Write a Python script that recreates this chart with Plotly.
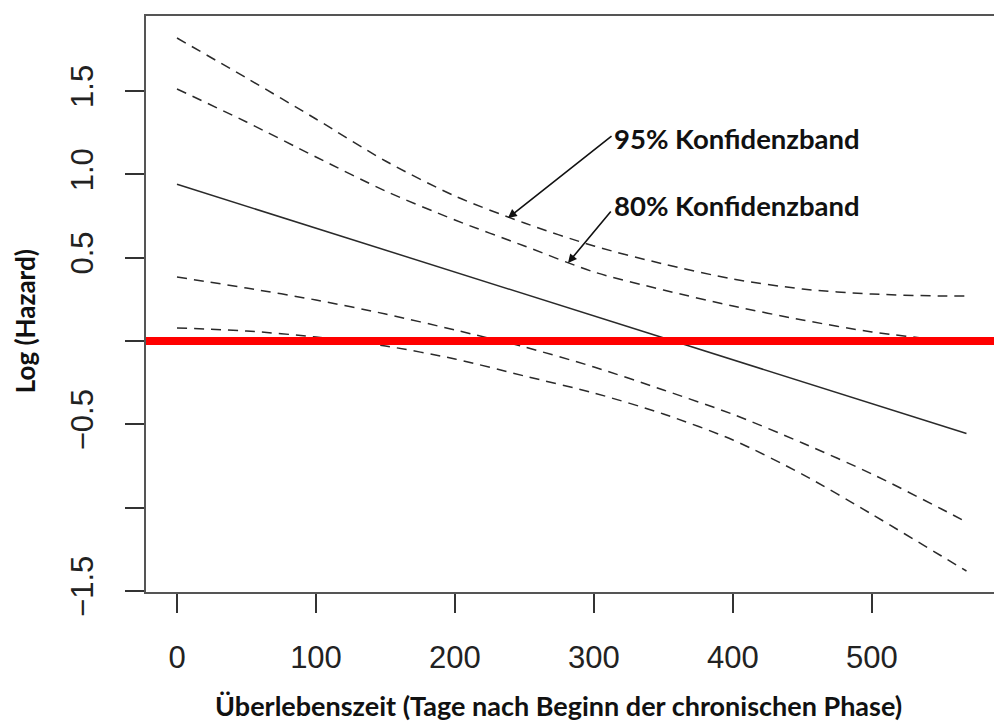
import plotly.graph_objects as go

# ---- data ----
days = [0, 50, 100, 150, 200, 250, 300, 350, 400, 450, 500, 550, 568]
log_hazard = [0.940, 0.808, 0.677, 0.545, 0.414, 0.282, 0.150, 0.019, -0.113, -0.244, -0.376, -0.508, -0.555]
upper95 = [1.818, 1.578, 1.332, 1.080, 0.870, 0.708, 0.570, 0.462, 0.372, 0.312, 0.282, 0.270, 0.270]
upper80 = [1.512, 1.314, 1.104, 0.900, 0.726, 0.570, 0.414, 0.306, 0.210, 0.126, 0.054, 0.006, -0.006]
lower80 = [0.384, 0.318, 0.246, 0.162, 0.066, -0.036, -0.156, -0.294, -0.440, -0.612, -0.798, -1.008, -1.086]
lower95 = [0.078, 0.060, 0.024, -0.030, -0.108, -0.210, -0.312, -0.438, -0.594, -0.800, -1.040, -1.290, -1.380]

x_ticks = [0, 100, 200, 300, 400, 500]
y_ticks = [-1.5, -1.0, -0.5, 0.0, 0.5, 1.0, 1.5]
y_ticklabels = ["\u22121.5", "", "\u22120.5", "", "0.5", "1.0", "1.5"]

x_title = "Überlebenszeit (Tage nach Beginn der chronischen Phase)"
y_title = "Log (Hazard)"
label95 = "95% Konfidenzband"
label80 = "80% Konfidenzband"

LINE = "#2a2a2a"
DASH = "10px,7px"

fig = go.Figure()
for ys in (upper95, upper80, lower80, lower95):
    fig.add_trace(go.Scatter(x=days, y=ys, mode="lines",
                             line=dict(color=LINE, width=1.5, dash=DASH, shape="spline", smoothing=0.8),
                             hoverinfo="skip", showlegend=False))
fig.add_trace(go.Scatter(x=days, y=log_hazard, mode="lines",
                         line=dict(color=LINE, width=1.5),
                         hoverinfo="skip", showlegend=False))

# red reference line at 0
fig.add_shape(type="line", xref="paper", yref="y", x0=0, x1=1, y0=0, y1=0,
              line=dict(color="#ff0000", width=8), layer="above")

tickfont = dict(family="Liberation Sans, Arial, sans-serif", size=31, color="#222")
titlefont = dict(family="Lato, Open Sans, sans-serif", size=27, color="#111", weight="bold")

fig.update_xaxes(range=[-22.3, 587.8], tickvals=x_ticks, ticktext=[str(v) for v in x_ticks],
                 ticks="outside", ticklen=19, tickwidth=1.5, tickcolor="#333",
                 showline=True, mirror=True, linecolor="#555", linewidth=2,
                 showgrid=False, zeroline=False, tickfont=tickfont, ticklabelstandoff=18)
fig.update_yaxes(range=[-1.506, 1.95], tickvals=y_ticks, ticktext=y_ticklabels,
                 ticks="outside", ticklen=19, tickwidth=1.5, tickcolor="#333",
                 showline=True, mirror=False, linecolor="#555", linewidth=2,
                 showgrid=False, zeroline=False, tickfont=tickfont, tickangle=-90,
                 ticklabelstandoff=20)

fig.add_annotation(text=x_title, xref="paper", yref="paper", x=0.487, y=-0.197,
                   xanchor="center", yanchor="middle", showarrow=False, font=titlefont)
fig.add_annotation(text=y_title, xref="paper", yref="paper", x=-0.1427, y=0.47,
                   xanchor="center", yanchor="middle", showarrow=False, textangle=-90,
                   font=dict(family="Lato, Open Sans, sans-serif", size=26, color="#111", weight="bold"))

labfont = dict(family="Lato, Open Sans, sans-serif", size=27.5, color="#111", weight="bold")
fig.add_annotation(text=label95, x=313, y=1.217, xref="x", yref="y", xanchor="left",
                   yanchor="middle", showarrow=False, font=labfont)
fig.add_annotation(text=label80, x=313, y=0.815, xref="x", yref="y", xanchor="left",
                   yanchor="middle", showarrow=False, font=labfont)
# arrows
fig.add_annotation(x=238.1, y=0.738, ax=313.7, ay=1.236, xref="x", yref="y",
                   axref="x", ayref="y", text="", showarrow=True, arrowhead=2,
                   arrowsize=1.1, arrowwidth=1.6, arrowcolor="#111")
fig.add_annotation(x=281.3, y=0.468, ax=313.0, ay=0.786, xref="x", yref="y",
                   axref="x", ayref="y", text="", showarrow=True, arrowhead=2,
                   arrowsize=1.1, arrowwidth=1.6, arrowcolor="#111")

fig.update_layout(width=994, height=724, margin=dict(l=146, r=0, t=16, b=132),
                  plot_bgcolor="white", paper_bgcolor="white", showlegend=False)

fig.write_html("out.html")
